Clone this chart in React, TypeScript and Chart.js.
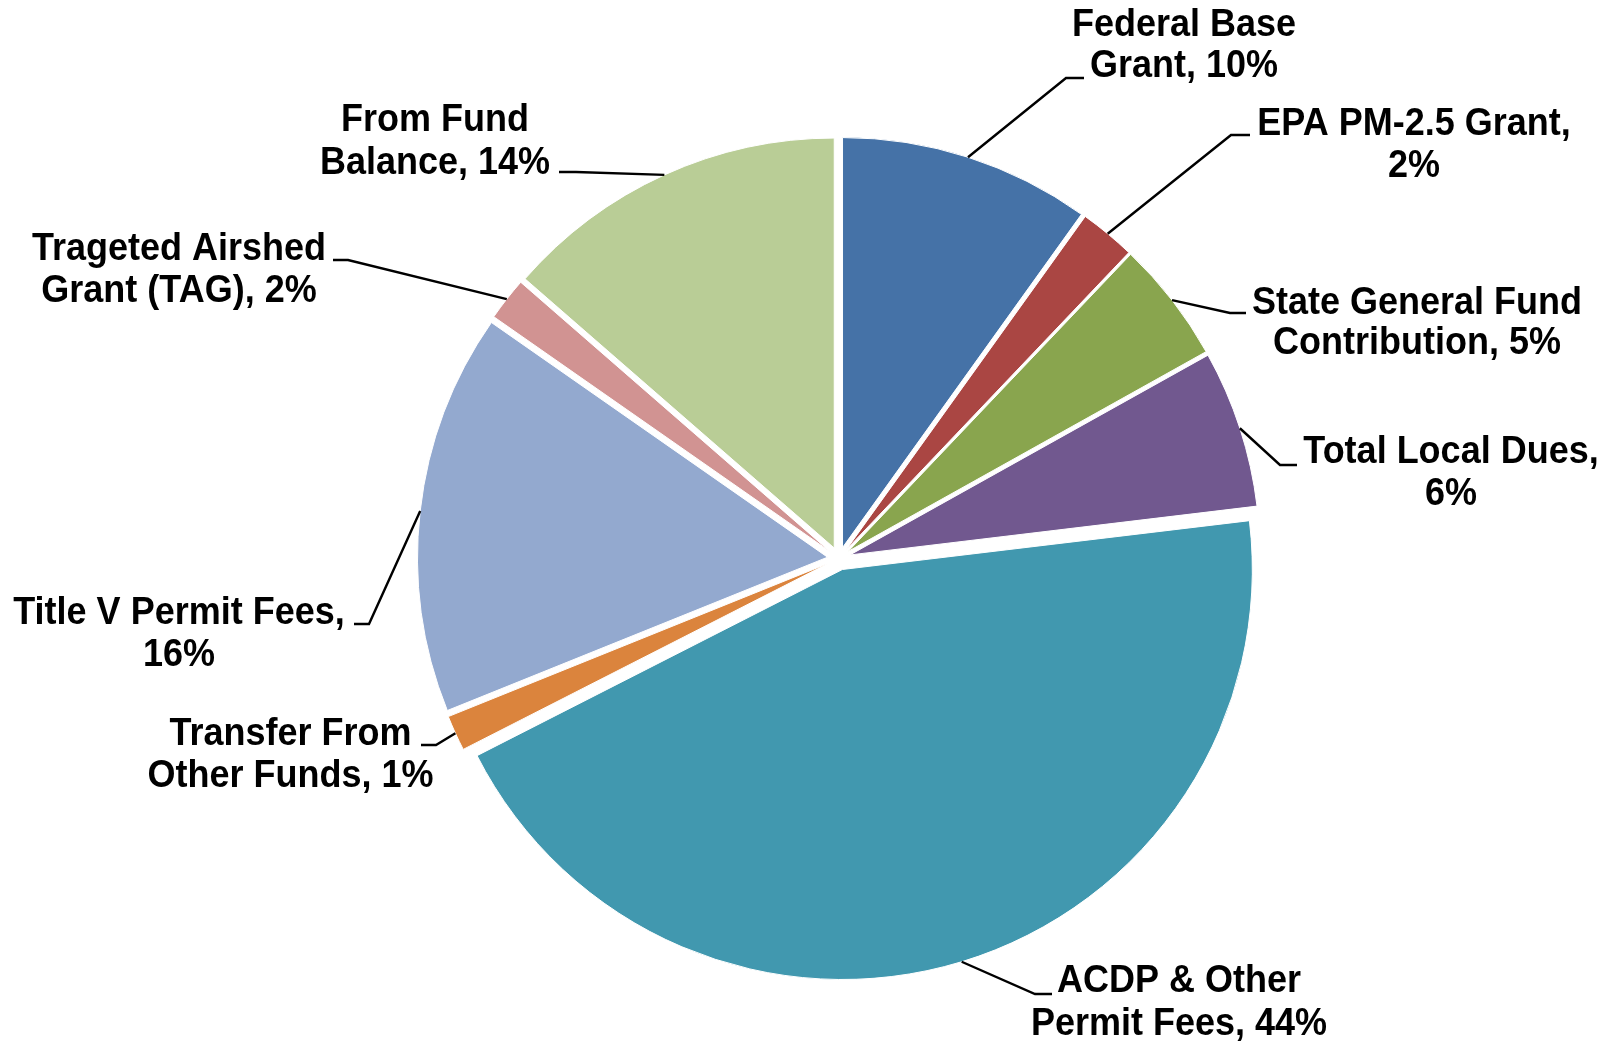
import React, { useEffect, useRef } from "react";
import { Chart, registerables } from "chart.js";

Chart.register(...registerables);

// ---- data ----
const categories = [
  "Federal Base Grant",
  "EPA PM-2.5 Grant",
  "State General Fund Contribution",
  "Total Local Dues",
  "ACDP & Other Permit Fees",
  "Transfer From Other Funds",
  "Title V Permit Fees",
  "Trageted Airshed Grant (TAG)",
  "From Fund Balance",
];
const shares = [9.9, 2.2, 4.8, 6.2, 44.4, 1.4, 15.8, 1.7, 13.6];
// first line of each wrapped label (rest of "name, pct%" goes on line two)
const labelFirstLines = [
  "Federal Base",
  "EPA PM-2.5 Grant,",
  "State General Fund",
  "Total Local Dues,",
  "ACDP & Other",
  "Transfer From",
  "Title V Permit Fees,",
  "Trageted Airshed",
  "From Fund",
];

// ---- styles / layout ----
const sliceColors = [
  "#4572A7",
  "#AA4643",
  "#89A54E",
  "#71588F",
  "#4198AF",
  "#DB843D",
  "#93A9CF",
  "#D19392",
  "#B9CD96",
];
const EXPLODE = 11.5;
const RADIUS = 410;
const FONT = 'bold 36px "Liberation Sans", Arial, sans-serif';
const TEXT_STRETCH_Y = 1.06;
// label text centre x, line centre ys, leader elbow and tick end
const labelLayout = [
  { x: 1184, ys: [25, 66], elbow: [1066, 78], end: [1084, 78] },
  { x: 1414, ys: [124.5, 166], elbow: [1231, 135], end: [1250, 135] },
  { x: 1417, ys: [303, 343.5], elbow: [1230, 313], end: [1246, 313] },
  { x: 1451, ys: [452, 494.5], elbow: [1280, 465], end: [1297, 465] },
  { x: 1179, ys: [981.5, 1024], elbow: [1035, 994], end: [1052, 994] },
  { x: 290.5, ys: [734, 776], elbow: [436, 745], end: [421, 745] },
  { x: 179, ys: [613, 655], elbow: [369, 624], end: [354, 624] },
  { x: 179, ys: [249, 291.5], elbow: [348, 260], end: [333, 260] },
  { x: 435, ys: [120, 163], elbow: [576, 172], end: [559, 172] },
];

const explodePlugin = {
  id: "explodeSlices",
  afterDatasetsUpdate(chart: any) {
    const meta = chart.getDatasetMeta(0);
    const { left, right, top, bottom } = chart.chartArea;
    const cx = (left + right) / 2;
    const cy = (top + bottom) / 2;
    meta.data.forEach((arc: any) => {
      const mid = (arc.startAngle + arc.endAngle) / 2;
      arc.x = cx + Math.cos(mid) * EXPLODE;
      arc.y = cy + Math.sin(mid) * EXPLODE;
    });
  },
};

const labelPlugin = {
  id: "outsideLabels",
  afterDatasetsDraw(chart: any) {
    const ctx = chart.ctx;
    const meta = chart.getDatasetMeta(0);
    const total = shares.reduce((a, b) => a + b, 0);
    ctx.save();
    meta.data.forEach((arc: any, i: number) => {
      const lay = labelLayout[i];
      const mid = (arc.startAngle + arc.endAngle) / 2;
      const sx = arc.x + Math.cos(mid) * arc.outerRadius;
      const sy = arc.y + Math.sin(mid) * arc.outerRadius;
      ctx.strokeStyle = "#000";
      ctx.lineWidth = 2.4;
      ctx.beginPath();
      ctx.moveTo(sx, sy);
      ctx.lineTo(lay.elbow[0], lay.elbow[1]);
      ctx.lineTo(lay.end[0], lay.end[1]);
      ctx.stroke();

      const pct = Math.round((shares[i] / total) * 100);
      const full = `${categories[i]}, ${pct}%`;
      const l1 = labelFirstLines[i];
      const l2 = full.slice(l1.length).trim();
      ctx.fillStyle = "#000";
      ctx.font = FONT;
      ctx.textAlign = "center";
      ctx.textBaseline = "middle";
      [l1, l2].forEach((t, k) => {
        ctx.save();
        ctx.translate(lay.x, lay.ys[k]);
        ctx.scale(1, TEXT_STRETCH_Y);
        ctx.fillText(t, 0, 0);
        ctx.restore();
      });
    });
    ctx.restore();
  },
};

export default function App() {
  const ref = useRef<HTMLCanvasElement | null>(null);
  useEffect(() => {
    document.body.style.margin = "0";
    const canvas = ref.current!;
    const chart = new Chart(canvas, {
      type: "pie",
      data: {
        labels: categories,
        datasets: [
          {
            data: shares,
            backgroundColor: sliceColors,
            borderColor: "#ffffff",
            borderWidth: 1,
          },
        ],
      },
      options: {
        responsive: false,
        animation: false,
        radius: RADIUS,
        layout: { padding: { top: 75, bottom: 0, left: 264, right: 200 } },
        plugins: {
          legend: { display: false },
          tooltip: { enabled: false },
        },
      } as any,
      plugins: [explodePlugin, labelPlugin],
    });
    return () => chart.destroy();
  }, []);
  return (
    <div style={{ position: "absolute", left: 0, top: 0, width: 1614, height: 1042, background: "#fff" }}>
      <canvas ref={ref} width={1614} height={1042} />
    </div>
  );
}
